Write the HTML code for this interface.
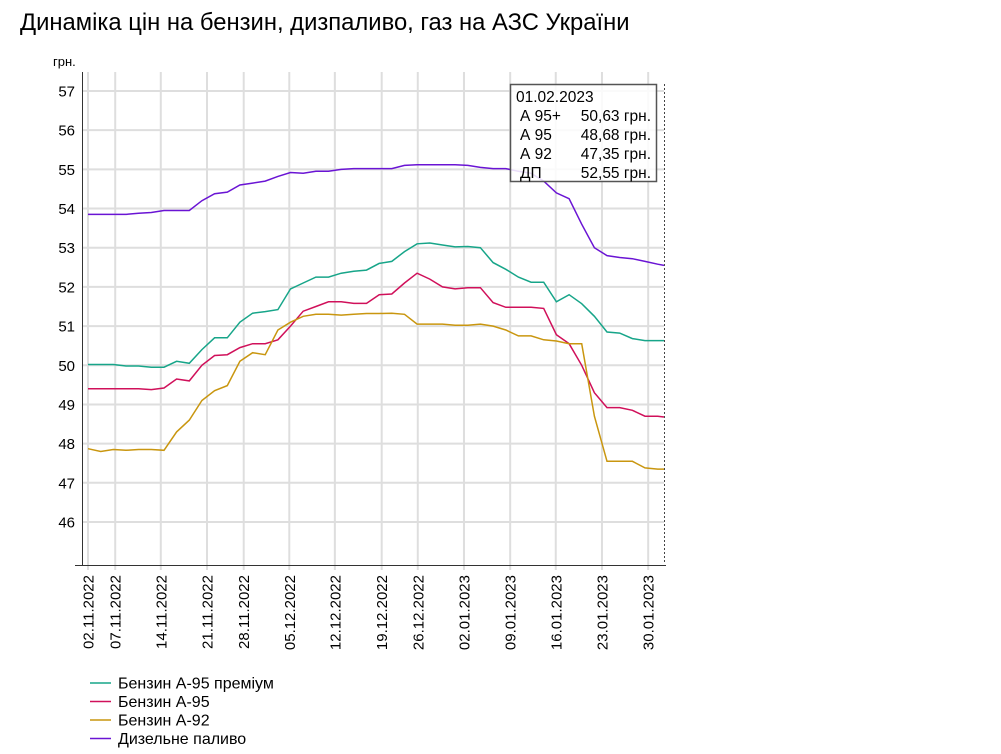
<!DOCTYPE html>
<html><head><meta charset="utf-8">
<style>
body{margin:0;background:#fff;width:1001px;height:754px;overflow:hidden;font-family:"Liberation Sans",sans-serif;}
svg{position:absolute;left:0;top:0}
</style></head>
<body>
<svg id="c" width="1001" height="754"></svg>
<script>
const tickIdx=[0,4.3,11.5,18.8,24.6,31.8,39,46.4,52.1,59.4,66.7,73.9,81.2,88.5];
const tickLabels=["02.11.2022","07.11.2022","14.11.2022","21.11.2022","28.11.2022","05.12.2022","12.12.2022","19.12.2022","26.12.2022","02.01.2023","09.01.2023","16.01.2023","23.01.2023","30.01.2023"];
const yTicks=[46,47,48,49,50,51,52,53,54,55,56,57];
const pointIdx=[0,2,4,6,8,10,12,14,16,18,20,22,24,26,28,30,32,34,36,38,40,42,44,46,48,50,52,54,56,58,60,62,64,66,68,70,72,74,76,78,80,82,84,86,88,90,91];
const a95p=[50.02,50.02,50.02,49.98,49.98,49.95,49.95,50.1,50.05,50.4,50.7,50.7,51.1,51.33,51.37,51.42,51.95,52.1,52.25,52.25,52.35,52.4,52.43,52.6,52.65,52.9,53.1,53.12,53.07,53.02,53.03,53.0,52.62,52.45,52.25,52.12,52.12,51.62,51.8,51.57,51.25,50.85,50.82,50.68,50.63,50.63,50.63];
const a95=[49.4,49.4,49.4,49.4,49.4,49.38,49.42,49.65,49.6,50.0,50.25,50.27,50.45,50.55,50.55,50.65,51.0,51.38,51.5,51.62,51.62,51.58,51.58,51.8,51.82,52.1,52.35,52.2,52.0,51.95,51.98,51.98,51.6,51.48,51.48,51.48,51.45,50.78,50.55,50.0,49.3,48.92,48.92,48.85,48.7,48.7,48.68];
const a92=[47.87,47.8,47.85,47.83,47.85,47.85,47.83,48.3,48.6,49.1,49.35,49.48,50.1,50.32,50.27,50.9,51.1,51.25,51.3,51.3,51.28,51.3,51.32,51.32,51.33,51.3,51.05,51.05,51.05,51.02,51.02,51.05,51.0,50.9,50.75,50.75,50.65,50.62,50.55,50.55,48.7,47.55,47.55,47.55,47.38,47.35,47.35];
const dp=[53.85,53.85,53.85,53.85,53.88,53.9,53.95,53.95,53.95,54.2,54.38,54.42,54.6,54.65,54.7,54.82,54.92,54.9,54.95,54.95,55.0,55.02,55.02,55.02,55.02,55.1,55.12,55.12,55.12,55.12,55.1,55.05,55.02,55.02,54.95,54.9,54.7,54.4,54.25,53.6,53.0,52.8,52.75,52.72,52.65,52.58,52.55];
const seriesNames=["Бензин А-95 преміум","Бензин А-95","Бензин А-92","Дизельне паливо"];
const colors=["#17a589","#d0105a","#c9960f","#6a14d4"];
const NS="http://www.w3.org/2000/svg";
const svg=document.getElementById('c');
const X=i=>88+i*(664-88)/91;
const Y=v=>91+(57-v)*39.18;
function el(t,a,p){const e=document.createElementNS(NS,t);for(const k in a)e.setAttribute(k,a[k]);(p||svg).appendChild(e);return e;}
let t=el('text',{x:20,y:30,'font-size':23.8,fill:'#000'});t.textContent='Динаміка цін на бензин, дизпаливо, газ на АЗС України';


t=el('text',{x:53,y:66,'font-size':13});t.textContent='грн.';


yTicks.forEach(v=>{
 const g=el('line',{x1:83,x2:664,y1:Y(v),y2:Y(v),stroke:'#dedede','stroke-width':2});
 
 
 const tl=el('text',{x:75,y:Y(v)+5.5,'font-size':15,'text-anchor':'end'});tl.textContent=v;
 
 
});
tickIdx.forEach((ix,k)=>{
 const x=X(ix);
 const g=el('line',{x1:x,x2:x,y1:72,y2:570,stroke:'#dedede','stroke-width':2});
 
 
 const tl=el('text',{x:0,y:0,'font-size':15,'text-anchor':'end',transform:`translate(${x+5.5},${575}) rotate(-90)`});tl.textContent=tickLabels[k];
 
 
});
let ax=el('line',{x1:82.5,x2:82.5,y1:72,y2:566,stroke:'#333','stroke-width':1});


ax=el('line',{x1:75,x2:666,y1:565.5,y2:565.5,stroke:'#333','stroke-width':1});


[a95p,a95,a92,dp].forEach((s,k)=>{
 const d=s.map((v,i)=>(i?'L':'M')+X(pointIdx[i]).toFixed(1)+','+Y(v).toFixed(1)).join('');
 const p=el('path',{d:d,fill:'none',stroke:colors[k],'stroke-width':1.5});
 
 
});
const cl=el('line',{x1:664.5,x2:664.5,y1:84,y2:562,stroke:'#444','stroke-dasharray':'2,2'});


const tg=el('g',{});


el('rect',{x:510.5,y:84.5,width:146,height:97,fill:'#fff','fill-opacity':0.85,stroke:'#555','stroke-width':1.5},tg);
const tt=[["01.02.2023",""],["А 95+","50,63 грн."],["А 95","48,68 грн."],["А 92","47,35 грн."],["ДП","52,55 грн."]];
tt.forEach((r,i)=>{
 const a=el('text',{x:i?520:516,y:102+i*19,'font-size':15.5},tg);a.textContent=r[0];
 if(r[1]){const b=el('text',{x:651,y:102+i*19,'font-size':15.5,'text-anchor':'end'},tg);b.textContent=r[1];}
});
seriesNames.forEach((n,k)=>{
 const y=683+k*18.5;
 const g=el('g',{});
 
 
 el('line',{x1:90,x2:111,y1:y,y2:y,stroke:colors[k],'stroke-width':1.5},g);
 const tx=el('text',{x:118,y:y+5.5,'font-size':16},g);tx.textContent=n;
});
</script>
</body></html>
